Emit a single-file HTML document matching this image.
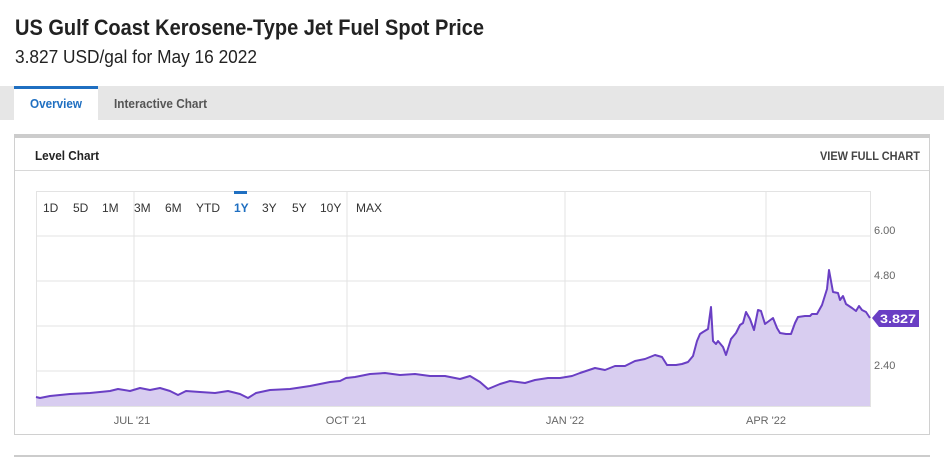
<!DOCTYPE html>
<html><head><meta charset="utf-8"><style>
html,body{margin:0;padding:0;background:#fff;width:944px;height:457px;overflow:hidden}
svg{display:block}
text{font-family:"Liberation Sans",sans-serif}
</style></head><body>
<svg width="944" height="457" viewBox="0 0 944 457" xmlns="http://www.w3.org/2000/svg">
<text x="15" y="35" font-size="22" font-weight="bold" fill="#222" textLength="469" lengthAdjust="spacingAndGlyphs">US Gulf Coast Kerosene-Type Jet Fuel Spot Price</text>
<text x="15" y="63" font-size="18" fill="#222" textLength="242" lengthAdjust="spacingAndGlyphs">3.827 USD/gal for May 16 2022</text>
<rect x="0" y="86" width="944" height="34" fill="#e6e6e6"/>
<rect x="14" y="86" width="84" height="34" fill="#fff"/>
<rect x="14" y="86" width="84" height="3" fill="#1f6fc1"/>
<text x="30" y="108" font-size="13" font-weight="bold" fill="#1f6fc1" textLength="52" lengthAdjust="spacingAndGlyphs">Overview</text>
<text x="114" y="108" font-size="13" font-weight="bold" fill="#555" textLength="93" lengthAdjust="spacingAndGlyphs">Interactive Chart</text>
<rect x="14.5" y="134.5" width="915" height="300" fill="#fff" stroke="#d0d0d0"/>
<rect x="14" y="134" width="916" height="4" fill="#cccccc"/>
<text x="35" y="160" font-size="13" font-weight="bold" fill="#222" textLength="64" lengthAdjust="spacingAndGlyphs">Level Chart</text>
<text x="920" y="160" font-size="12" font-weight="bold" fill="#444" text-anchor="end" textLength="100" lengthAdjust="spacingAndGlyphs">VIEW FULL CHART</text>
<line x1="15" y1="170.5" x2="929" y2="170.5" stroke="#d8d8d8"/>
<rect x="36.5" y="191.5" width="834" height="215" fill="none" stroke="#e3e3e3"/>
<g stroke="#e3e3e3">
<line x1="37" y1="236" x2="870" y2="236"/><line x1="37" y1="281" x2="870" y2="281"/>
<line x1="37" y1="326" x2="870" y2="326"/><line x1="37" y1="371" x2="870" y2="371"/>
<line x1="134" y1="192" x2="134" y2="406"/><line x1="347" y1="192" x2="347" y2="406"/>
<line x1="565" y1="192" x2="565" y2="406"/><line x1="766" y1="192" x2="766" y2="406"/>
</g>
<g font-size="12" fill="#333">
<text x="43" y="212">1D</text><text x="73" y="212">5D</text><text x="102" y="212">1M</text>
<text x="134" y="212">3M</text><text x="165" y="212">6M</text><text x="196" y="212">YTD</text>
<text x="234" y="212" fill="#1f6fc1" font-weight="bold">1Y</text><text x="262" y="212">3Y</text>
<text x="292" y="212">5Y</text><text x="320" y="212">10Y</text><text x="356" y="212">MAX</text>
</g>
<rect x="234" y="191" width="13" height="3" fill="#1f6fc1"/>
<g font-size="11" fill="#666">
<text x="874" y="234">6.00</text><text x="874" y="279">4.80</text><text x="874" y="369">2.40</text>
<text x="132" y="424" text-anchor="middle">JUL '21</text><text x="346" y="424" text-anchor="middle">OCT '21</text>
<text x="565" y="424" text-anchor="middle">JAN '22</text><text x="766" y="424" text-anchor="middle">APR '22</text>
</g>
<path fill="#d8cdf0" stroke="none" d="M36,406 L36,397 40,398 50,396 70,394 90,393 110,391 118,389 130,391 140,388 150,390 160,388 170,391 178,395 186,391 200,392 215,393 228,391 240,394 248,398 256,393 270,390 290,389 310,386 330,382 340,381 346,378 355,377 370,374 385,373 400,375 415,374 430,376 445,376 460,379 470,376 480,382 488,389 500,384 510,381 525,383 535,380 548,378 560,378 572,376 580,373 595,368 605,370 615,366 625,366 635,361 645,359 655,355 662,357 667,365 676,365 682,364 688,362 693,356 697,341 700,334 703,332 708,329 711,307 713,341 716,344 718,341 723,347 726,355 731,339 736,333 740,325 743,323 746,312 750,319 754,330 758,310 761,311 765,324 769,321 773,318 777,328 780,333 786,334 791,334 795,323 798,317 805,316 810,316 812,314 817,314 822,305 827,289 829,270 833,292 838,293 840,300 843,296 846,304 852,308 856,311 859,306 862,310 866,312 870,318 L870,406 Z"/>
<polyline fill="none" stroke="#6a3fc4" stroke-width="2" stroke-linejoin="round" points="36,397 40,398 50,396 70,394 90,393 110,391 118,389 130,391 140,388 150,390 160,388 170,391 178,395 186,391 200,392 215,393 228,391 240,394 248,398 256,393 270,390 290,389 310,386 330,382 340,381 346,378 355,377 370,374 385,373 400,375 415,374 430,376 445,376 460,379 470,376 480,382 488,389 500,384 510,381 525,383 535,380 548,378 560,378 572,376 580,373 595,368 605,370 615,366 625,366 635,361 645,359 655,355 662,357 667,365 676,365 682,364 688,362 693,356 697,341 700,334 703,332 708,329 711,307 713,341 716,344 718,341 723,347 726,355 731,339 736,333 740,325 743,323 746,312 750,319 754,330 758,310 761,311 765,324 769,321 773,318 777,328 780,333 786,334 791,334 795,323 798,317 805,316 810,316 812,314 817,314 822,305 827,289 829,270 833,292 838,293 840,300 843,296 846,304 852,308 856,311 859,306 862,310 866,312 870,318"/>
<path d="M872,318 L879,310 L919,310 L919,327 L879,327 Z" fill="#6a3fc4"/>
<text x="880" y="323" font-size="12" font-weight="bold" fill="#fff" textLength="36" lengthAdjust="spacingAndGlyphs">3.827</text>
<rect x="14" y="455" width="916" height="2" fill="#cccccc"/>
</svg>
</body></html>
